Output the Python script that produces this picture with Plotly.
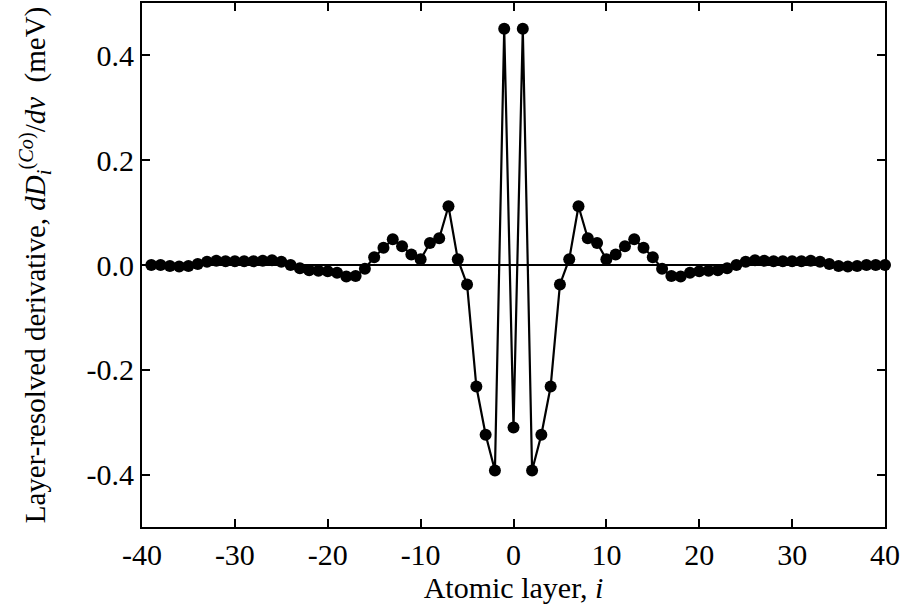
import plotly.graph_objects as go

layers = list(range(-39, 41))
deriv = [
    0.000, 0.000, -0.002, -0.003, -0.002, 0.002, 0.006, 0.008, 0.007, 0.007,   # -39..-30
    0.007, 0.007, 0.008, 0.009, 0.006, 0.000, -0.006, -0.010, -0.011, -0.012,  # -29..-20
    -0.015, -0.022, -0.021, -0.007, 0.015, 0.033, 0.049, 0.036, 0.020, 0.011,  # -19..-10
    0.042, 0.051, 0.112, 0.011, -0.037, -0.232, -0.324, -0.392, 0.451,         # -9..-1
    -0.310,                                                                    # 0
    0.451, -0.392, -0.324, -0.232, -0.037, 0.011, 0.112, 0.051, 0.042, 0.011,  # 1..10
    0.020, 0.036, 0.049, 0.033, 0.015, -0.007, -0.021, -0.022, -0.015, -0.012, # 11..20
    -0.011, -0.010, -0.006, 0.000, 0.006, 0.009, 0.008, 0.007, 0.007, 0.007,   # 21..30
    0.007, 0.008, 0.006, 0.002, -0.002, -0.003, -0.002, 0.000, 0.000, 0.000,   # 31..40
]

x_ticks = [-40, -30, -20, -10, 0, 10, 20, 30, 40]
y_ticks = [-0.4, -0.2, 0.0, 0.2, 0.4]
y_tick_labels = ["-0.4", "-0.2", "0.0", "0.2", "0.4"]

font_family = "Liberation Serif"

fig = go.Figure()
fig.add_trace(go.Scatter(
    x=layers, y=deriv, mode="lines+markers",
    line=dict(color="black", width=2.2),
    marker=dict(color="black", size=12),
    cliponaxis=False, showlegend=False,
))

axis_common = dict(
    showline=True, linecolor="black", linewidth=2, mirror="ticks",
    ticks="inside", ticklen=8, tickwidth=2, tickcolor="black",
    showgrid=False,
    tickfont=dict(family=font_family, size=30, color="black"),
)

fig.update_xaxes(
    range=[-40, 40], tickvals=x_ticks, ticktext=[str(v) for v in x_ticks],
    zeroline=False,
    title=dict(text="Atomic layer, <i>i</i>", font=dict(family=font_family, size=30, color="black"), standoff=2),
    **axis_common,
)
fig.update_yaxes(
    range=[-0.5, 0.5], tickvals=y_ticks, ticktext=y_tick_labels,
    zeroline=True, zerolinecolor="black", zerolinewidth=2,
    title=dict(text="Layer-resolved derivative, <i>dD</i><sub><i>i</i></sub><sup>(<i>Co</i>)</sup>/<i>dv</i>  (meV)",
               font=dict(family=font_family, size=29, color="black"), standoff=32),
    **axis_common,
)

fig.update_layout(
    width=907, height=612,
    margin=dict(l=142, r=22, t=1, b=85),
    plot_bgcolor="white", paper_bgcolor="white",
    font=dict(family=font_family, color="black"),
)

fig.write_html("out.html", config={"displayModeBar": False},
               post_script="document.body.style.margin='0';")
